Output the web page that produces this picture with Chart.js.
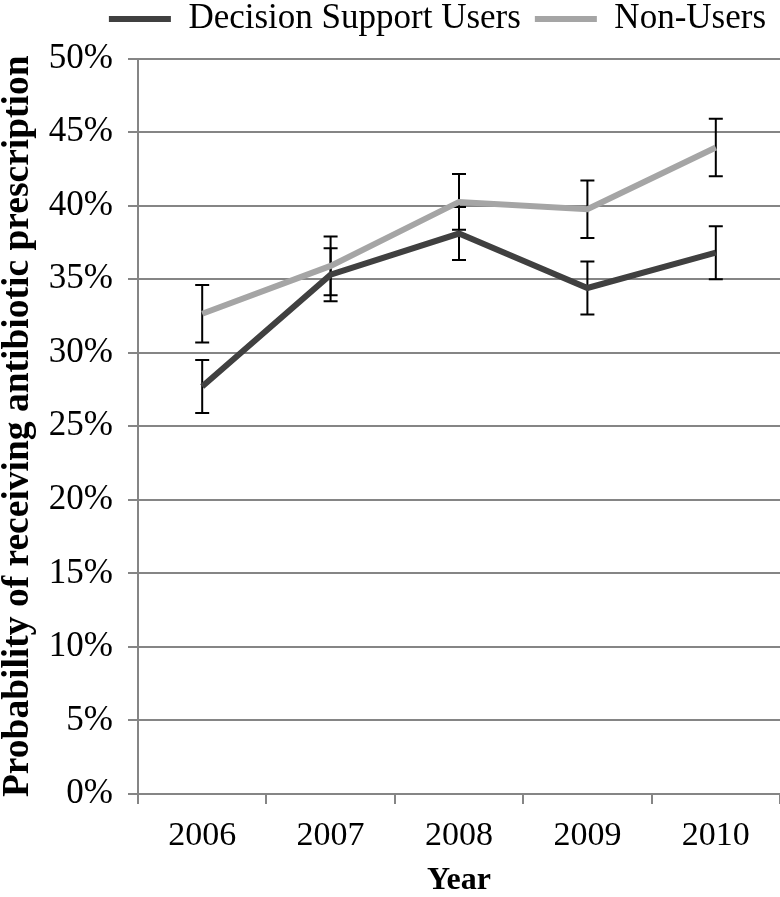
<!DOCTYPE html>
<html>
<head>
<meta charset="utf-8">
<script src="https://cdn.jsdelivr.net/npm/chart.js@4.4.1/dist/chart.umd.min.js"></script>
<style>
  body { margin: 0; background: #fff; }
  canvas { display: block; }
</style>
</head>
<body>
<canvas id="rxChart" width="780" height="897"></canvas>
<script>
const years = ["2006", "2007", "2008", "2009", "2010"];
const usersPct = [27.7, 35.3, 38.1, 34.4, 36.8];
const usersErr = [1.8, 1.8, 1.8, 1.8, 1.8];
const nonUsersPct = [32.65, 35.9, 40.25, 39.75, 43.95];
const nonUsersErr = [1.95, 2.0, 1.9, 1.95, 1.95];
const yTicks = [0, 5, 10, 15, 20, 25, 30, 35, 40, 45, 50];

const serif = "'Liberation Serif', 'Times New Roman', serif";
const gridGray = "#858585";

// whiskers drawn from the y scale, under the lines
const errorBars = {
    id: "errorBars",
    beforeDatasetsDraw(chart) {
        const ctx = chart.ctx;
        const y = chart.scales.y;
        const errs = [usersErr, nonUsersErr];
        ctx.save();
        ctx.strokeStyle = "#000";
        ctx.lineWidth = 2;
        chart.data.datasets.forEach((ds, i) => {
            const meta = chart.getDatasetMeta(i);
            meta.data.forEach((pt, j) => {
                const top = y.getPixelForValue(ds.data[j] + errs[i][j]);
                const bot = y.getPixelForValue(ds.data[j] - errs[i][j]);
                ctx.beginPath();
                ctx.moveTo(pt.x, top);
                ctx.lineTo(pt.x, bot);
                ctx.moveTo(pt.x - 7, top);
                ctx.lineTo(pt.x + 7, top);
                ctx.moveTo(pt.x - 7, bot);
                ctx.lineTo(pt.x + 7, bot);
                ctx.stroke();
            });
        });
        ctx.restore();
    }
};

// more room under the legend
const legendGap = {
    id: "legendGap",
    beforeInit(chart) {
        const fit = chart.legend.fit;
        chart.legend.fit = function () {
            fit.call(this);
            this.height += 12;
        };
    }
};

const ctx = document.getElementById("rxChart");

const rxChart = new Chart(ctx, {
    type: "line",
    data: {
        labels: years,
        datasets: [{
            label: "Decision Support Users",
            data: usersPct,
            borderColor: "#404040",
            backgroundColor: "#404040",
            borderWidth: 6,
            pointRadius: 0,
            tension: 0
        }, {
            label: "Non-Users",
            data: nonUsersPct,
            borderColor: "#a5a5a5",
            backgroundColor: "#a5a5a5",
            borderWidth: 6,
            pointRadius: 0,
            tension: 0
        }]
    },
    options: {
        responsive: false,
        animation: false,
        layout: { padding: { top: -12.5, right: 0, bottom: 0, left: 0 } },
        plugins: {
            legend: {
                position: "top",
                align: "end",
                labels: {
                    usePointStyle: true,
                    pointStyle: "line",
                    pointStyleWidth: 62,
                    padding: 14,
                    color: "#000",
                    font: { family: serif, size: 35 }
                }
            },
            tooltip: { enabled: false }
        },
        scales: {
            x: {
                type: "category",
                offset: true,
                grid: {
                    offset: true,
                    drawOnChartArea: false,
                    color: gridGray,
                    lineWidth: 2,
                    tickLength: 10
                },
                border: { color: gridGray, width: 2 },
                ticks: {
                    color: "#000",
                    padding: 12,
                    font: { family: serif, size: 34 }
                },
                title: {
                    display: true,
                    text: "Year",
                    color: "#000",
                    padding: 0,
                    font: { family: serif, size: 32, weight: "bold", lineHeight: 1 }
                },
                afterFit: s => { s.height = 103; }
            },
            y: {
                min: 0,
                max: 50,
                afterBuildTicks: s => { s.ticks = yTicks.map(v => ({ value: v })); },
                grid: { color: gridGray, lineWidth: 2, tickLength: 10 },
                border: { color: gridGray, width: 2 },
                ticks: {
                    color: "#000",
                    padding: 15,
                    font: { family: serif, size: 35 },
                    callback: v => v + "%"
                },
                title: {
                    display: true,
                    text: "Probability of receiving antibiotic prescription",
                    color: "#000",
                    padding: 0,
                    font: { family: serif, size: 37.5, weight: "bold", lineHeight: 1 }
                },
                afterFit: s => { s.width = 138; }
            }
        }
    },
    plugins: [errorBars, legendGap]
});
</script>
</body>
</html>
